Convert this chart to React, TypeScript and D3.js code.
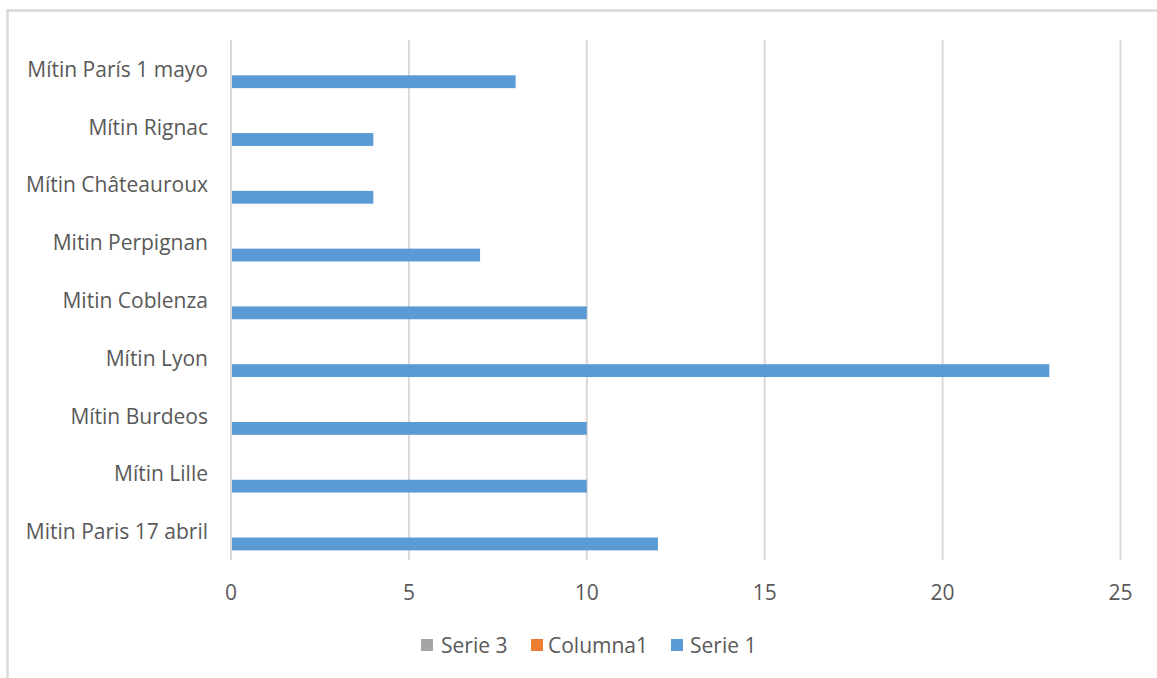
import React from "react";
import * as d3 from "d3";

const categories = [
  "Mítin París 1 mayo",
  "Mítin Rignac",
  "Mítin Châteauroux",
  "Mitin Perpignan",
  "Mitin Coblenza",
  "Mítin Lyon",
  "Mítin Burdeos",
  "Mítin Lille",
  "Mitin Paris 17 abril",
];
const serie3: (number | null)[] = [null, null, null, null, null, null, null, null, null];
const columna1: (number | null)[] = [null, null, null, null, null, null, null, null, null];
const serie1 = [8, 4, 4, 7, 10, 23, 10, 10, 12];
const xTicks = [0, 5, 10, 15, 20, 25];
const seriesNames = ["Serie 3", "Columna1", "Serie 1"];
const seriesColors = ["#a5a5a5", "#ed7d31", "#5b9bd5"];

export default function App() {
  const W = 1157, H = 678;
  const left = 231, right = 1120.5, top = 40, bottom = 560;
  const x = d3.scaleLinear().domain([0, 25]).range([left, right]);
  const y = d3.scaleBand().domain(categories).range([top, bottom]).paddingInner(0).paddingOuter(0);
  const bw = y.bandwidth() / 4.5;
  const gap = bw * 0.75;
  const seriesData = [serie3, columna1, serie1];
  const font = "'Open Sans', sans-serif";
  const fs = 21;
  const legendItems = [
    { x: 421, tx: 441 },
    { x: 531, tx: 548 },
    { x: 671, tx: 690 },
  ];
  return (
    <svg width={W} height={H} style={{ position: "absolute", left: 0, top: 0 }} fontFamily={font}>
      <rect x={0} y={0} width={W} height={H} fill="#fff" />
      <rect x={7.5} y={10.5} width={1170} height={690} fill="none" stroke="#d9d9d9" strokeWidth={2.5} />
      {xTicks.map((t) => (
        <line key={t} x1={x(t)} x2={x(t)} y1={top} y2={bottom} stroke="#d9d9d9" strokeWidth={2} />
      ))}
      {categories.map((c, i) =>
        seriesData.map((s, j) => {
          const v = s[i];
          if (v == null) return null;
          return (
            <rect
              key={c + j}
              x={x(0) + 1}
              y={(y(c) as number) + gap + j * bw}
              width={x(v) - x(0) - 1}
              height={bw}
              fill={seriesColors[j]}
            />
          );
        })
      )}
      {categories.map((c) => (
        <text
          key={c}
          x={208}
          y={(y(c) as number) + y.bandwidth() / 2}
          textAnchor="end"
          dominantBaseline="central"
          fontSize={fs}
          fill="#595959"
        >
          {c}
        </text>
      ))}
      {xTicks.map((t) => (
        <text key={t} x={x(t)} y={592} textAnchor="middle" dominantBaseline="central" fontSize={fs} fill="#595959">
          {t}
        </text>
      ))}
      {seriesNames.map((n, i) => (
        <g key={n}>
          <rect x={legendItems[i].x} y={639} width={12} height={12} fill={seriesColors[i]} />
          <text x={legendItems[i].tx} y={645} dominantBaseline="central" fontSize={fs} fill="#595959">
            {n}
          </text>
        </g>
      ))}
    </svg>
  );
}
